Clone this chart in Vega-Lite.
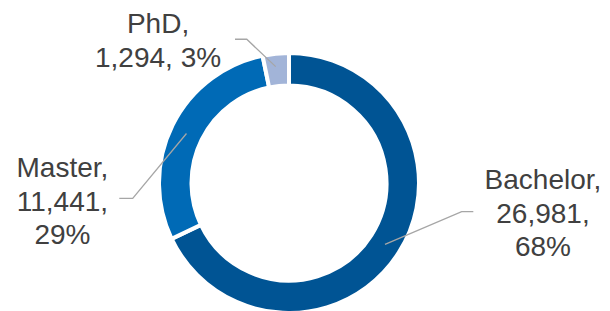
{
  "$schema": "https://vega.github.io/schema/vega-lite/v6.json",
  "width": 256,
  "height": 256,
  "autosize": {"type": "none"},
  "padding": {"left": 161, "top": 55, "right": 193, "bottom": 0},
  "background": "white",
  "config": {"view": {"stroke": null}},
  "datasets": {
    "degrees": [
      {"degree": "Bachelor", "students": 26981, "pct": 68, "order": 1},
      {"degree": "Master", "students": 11441, "pct": 29, "order": 2},
      {"degree": "PhD", "students": 1294, "pct": 3, "order": 3}
    ],
    "callouts": [
      {"degree": "Bachelor", "lx": 1.984, "ly": -0.047},
      {"degree": "Master", "lx": -1.77, "ly": 0.045},
      {"degree": "PhD", "lx": -1.023, "ly": 1.17}
    ],
    "leaders": [
      {"degree": "Bachelor", "step": 1, "x": 1.44, "y": -0.224},
      {"degree": "Bachelor", "step": 2, "x": 1.349, "y": -0.224},
      {"degree": "Bachelor", "step": 3, "x": 0.75, "y": -0.479},
      {"degree": "Master", "step": 1, "x": -1.326, "y": -0.12},
      {"degree": "Master", "step": 2, "x": -1.221, "y": -0.12},
      {"degree": "Master", "step": 3, "x": -0.801, "y": 0.387},
      {"degree": "PhD", "step": 1, "x": -0.422, "y": 1.123},
      {"degree": "PhD", "step": 2, "x": -0.33, "y": 1.123},
      {"degree": "PhD", "step": 3, "x": -0.104, "y": 0.909}
    ]
  },
  "layer": [
    {
      "data": {"name": "degrees"},
      "mark": {"type": "arc", "outerRadius": 130, "innerRadius": 97.5, "stroke": "white", "strokeWidth": 4},
      "encoding": {
        "theta": {"field": "students", "type": "quantitative", "stack": true},
        "order": {"field": "order", "type": "quantitative"},
        "color": {
          "field": "degree",
          "type": "nominal",
          "scale": {"domain": ["Bachelor", "Master", "PhD"], "range": ["#005494", "#006AB6", "#A2B4D8"]},
          "legend": null
        }
      }
    },
    {
      "data": {"name": "leaders"},
      "mark": {"type": "line", "color": "#A6A6A6", "strokeWidth": 1.3},
      "encoding": {
        "x": {"field": "x", "type": "quantitative", "scale": {"domain": [-1, 1], "nice": false, "zero": false}, "axis": null},
        "y": {"field": "y", "type": "quantitative", "scale": {"domain": [-1, 1], "nice": false, "zero": false}, "axis": null},
        "detail": {"field": "degree", "type": "nominal"},
        "order": {"field": "step", "type": "quantitative"}
      }
    },
    {
      "data": {"name": "degrees"},
      "transform": [
        {"lookup": "degree", "from": {"data": {"name": "callouts"}, "key": "degree", "fields": ["lx", "ly"]}},
        {"calculate": "datum.degree === 'PhD' ? [datum.degree + ',', format(datum.students, ',') + ', ' + datum.pct + '%'] : [datum.degree + ',', format(datum.students, ',') + ',', datum.pct + '%']", "as": "label"}
      ],
      "mark": {"type": "text", "align": "center", "baseline": "alphabetic", "font": "Liberation Sans", "fontSize": 28, "lineHeight": 33.5, "color": "#404040"},
      "encoding": {
        "x": {"field": "lx", "type": "quantitative", "scale": {"domain": [-1, 1], "nice": false, "zero": false}, "axis": null},
        "y": {"field": "ly", "type": "quantitative", "scale": {"domain": [-1, 1], "nice": false, "zero": false}, "axis": null},
        "text": {"field": "label"}
      }
    }
  ]
}
